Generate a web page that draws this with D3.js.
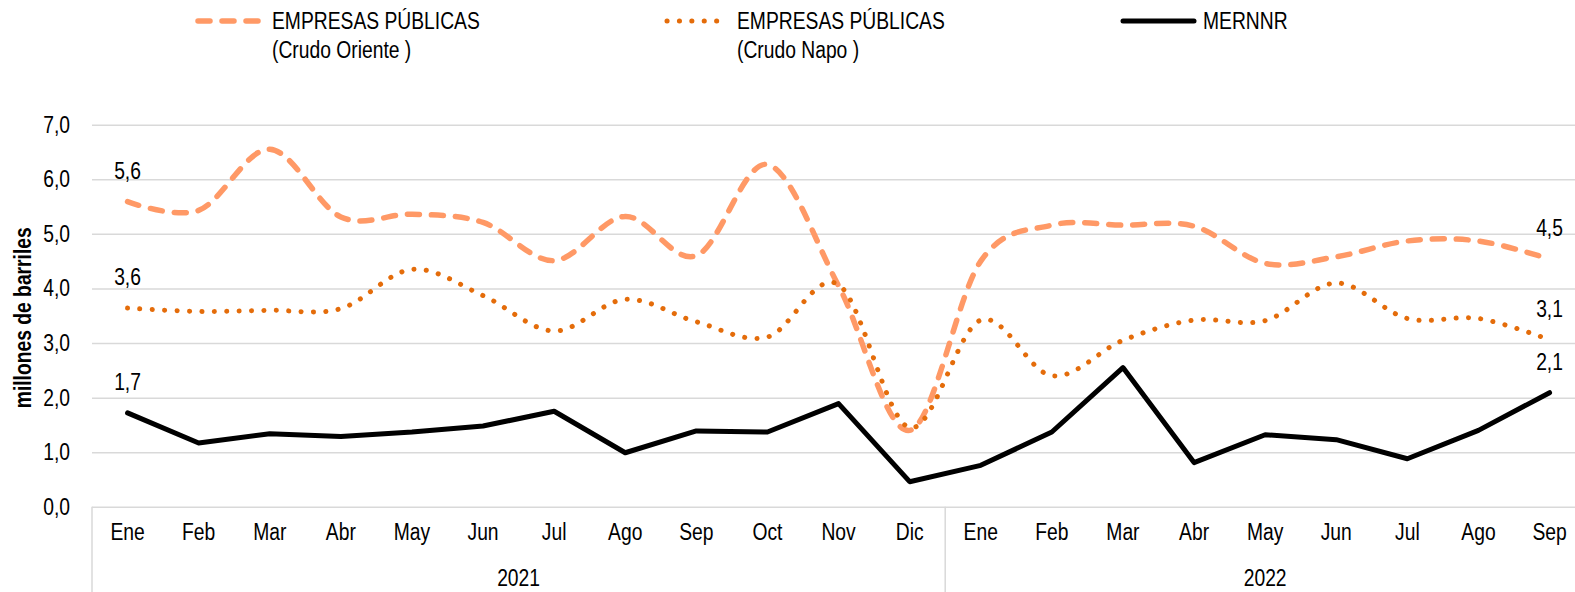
<!DOCTYPE html>
<html>
<head>
<meta charset="utf-8">
<script src="https://cdn.jsdelivr.net/npm/d3@7"></script>
<style>
  body { margin: 0; background: #fff; }
  svg { display: block; font-family: "Liberation Sans", Arial, sans-serif; }
</style>
</head>
<body>
<svg></svg>
<script>
// months for the two years shown
let months = ["Ene", "Feb", "Mar", "Abr", "May", "Jun", "Jul", "Ago", "Sep", "Oct", "Nov", "Dic",
              "Ene", "Feb", "Mar", "Abr", "May", "Jun", "Jul", "Ago", "Sep"]
let years = ["2021", "2022"]
let yearLength = [12, 9]

let oriente = [5.59, 5.43, 6.55, 5.31, 5.36, 5.21, 4.51, 5.32, 4.60, 6.27, 4.05, 1.40,
               4.50, 5.16, 5.16, 5.14, 4.46, 4.58, 4.87, 4.87, 4.54]
let napo = [3.64, 3.58, 3.60, 3.63, 4.35, 3.87, 3.22, 3.80, 3.39, 3.11, 4.07, 1.45,
            3.42, 2.40, 3.05, 3.42, 3.41, 4.10, 3.45, 3.45, 3.06]
let mernnr = [1.72, 1.17, 1.34, 1.29, 1.37, 1.48, 1.75, 0.99, 1.39, 1.37, 1.89, 0.46,
              0.76, 1.37, 2.55, 0.81, 1.32, 1.23, 0.88, 1.40, 2.09]

let yTicks = [0, 1, 2, 3, 4, 5, 6, 7]

let width = 1575
let height = 592
let padLeft = 92
let bandWidth = 71.1
let plotTop = 124.7
let plotBottom = 506.8
let font = "Liberation Sans, Arial, sans-serif"
let fontSize = 23.5
let narrow = 0.82   // the original uses a narrow face, squeeze glyphs to match

let svg = d3.select("svg").attr("width", width).attr("height", height)

let xScale = d3.scaleBand()
               .domain(d3.range(months.length))
               .range([padLeft, padLeft + bandWidth * months.length])
let yScale = d3.scaleLinear().domain([0, 7]).range([plotBottom, plotTop])

let cx = i => xScale(i) + xScale.bandwidth() / 2
let fmt = v => v.toFixed(1).replace(".", ",")

// gridlines + y tick labels
let yAxis = d3.axisLeft(yScale)
              .tickValues(yTicks)
              .tickSize(-(width - padLeft))
              .tickPadding(22)
              .tickFormat(fmt)
let gy = svg.append("g")
            .attr("transform", "translate(" + padLeft + ",0)")
            .call(yAxis)
gy.select(".domain").remove()
gy.selectAll(".tick line").attr("stroke", "#d9d9d9").attr("stroke-width", 1.5)
gy.selectAll(".tick text")
  .attr("font-size", fontSize)
  .attr("font-family", font)
  .attr("fill", "#000")

svg.append("text")
   .attr("transform", "translate(31," + ((plotTop + plotBottom) / 2 + 2) + ") rotate(-90)")
   .attr("text-anchor", "middle")
   .attr("font-size", fontSize)
   .attr("font-weight", "bold")
   .text("millones de barriles")

// x axis: month labels
let xAxis = d3.axisBottom(xScale).tickSize(0).tickPadding(17).tickFormat(i => months[i])
let gx = svg.append("g")
            .attr("transform", "translate(0," + plotBottom + ")")
            .call(xAxis)
gx.select(".domain").remove()
gx.selectAll(".tick text")
  .attr("font-size", fontSize)
  .attr("font-family", font)
  .attr("fill", "#000")

// year group separators and labels
let starts = [0, yearLength[0]]
starts.concat([months.length]).forEach(i => {
  let x = i < months.length ? xScale(i) : xScale(i - 1) + xScale.bandwidth()
  svg.append("line")
     .attr("x1", x).attr("x2", x)
     .attr("y1", plotBottom).attr("y2", height)
     .attr("stroke", "#d9d9d9").attr("stroke-width", 1.5)
})
years.forEach((yr, k) => {
  let x0 = xScale(starts[k])
  let x1 = xScale(starts[k] + yearLength[k] - 1) + xScale.bandwidth()
  svg.append("text")
     .attr("x", (x0 + x1) / 2)
     .attr("y", 586)
     .attr("text-anchor", "middle")
     .attr("font-size", fontSize)
     .text(yr)
})

// lines
let smooth = d3.line().x((d, i) => cx(i)).y(d => yScale(d)).curve(d3.curveCatmullRom.alpha(0))
let straight = d3.line().x((d, i) => cx(i)).y(d => yScale(d))

let series = [
  {values: oriente, path: smooth, color: "#ff9966", width: 5.5, dash: "12,12"},
  {values: napo, path: smooth, color: "#e46c0a", width: 5, dash: "0.1,12.3"},
  {values: mernnr, path: straight, color: "#000000", width: 5, dash: null}
]

series.forEach(s => {
  svg.append("path")
     .datum(s.values)
     .attr("d", s.path)
     .attr("fill", "none")
     .attr("stroke", s.color)
     .attr("stroke-width", s.width)
     .attr("stroke-linecap", "round")
     .attr("stroke-linejoin", "round")
     .attr("stroke-dasharray", s.dash)

  // first and last value labels
  let last = s.values.length - 1
  svg.selectAll(null)
     .data([0, last])
     .enter()
     .append("text")
     .attr("x", i => cx(i))
     .attr("y", i => yScale(s.values[i]) - 23)
     .attr("text-anchor", "middle")
     .attr("font-size", fontSize)
     .text(i => fmt(s.values[i]))
})

// legend
let legend = [
  {x1: 198, x2: 263, color: "#ff9966", width: 5.5, dash: "12,12", lines: ["EMPRESAS PÚBLICAS", "(Crudo Oriente )"]},
  {x1: 667, x2: 728, color: "#e46c0a", width: 5, dash: "0.1,12.3", lines: ["EMPRESAS PÚBLICAS", "(Crudo Napo )"]},
  {x1: 1123, x2: 1194, color: "#000000", width: 5, dash: null, lines: ["MERNNR"]}
]
legend.forEach(item => {
  svg.append("line")
     .attr("x1", item.x1).attr("x2", item.x2)
     .attr("y1", 21).attr("y2", 21)
     .attr("stroke", item.color)
     .attr("stroke-width", item.width)
     .attr("stroke-linecap", "round")
     .attr("stroke-dasharray", item.dash)
  item.lines.forEach((t, k) => {
    svg.append("text")
       .attr("x", item.x2 + 9)
       .attr("y", 29 + k * 29)
       .attr("font-size", fontSize)
       .text(t)
  })
})

// condense every label
svg.selectAll("text").each(function () {
  let len = this.getComputedTextLength()
  d3.select(this)
    .attr("textLength", len * narrow)
    .attr("lengthAdjust", "spacingAndGlyphs")
})
</script>
</body>
</html>
